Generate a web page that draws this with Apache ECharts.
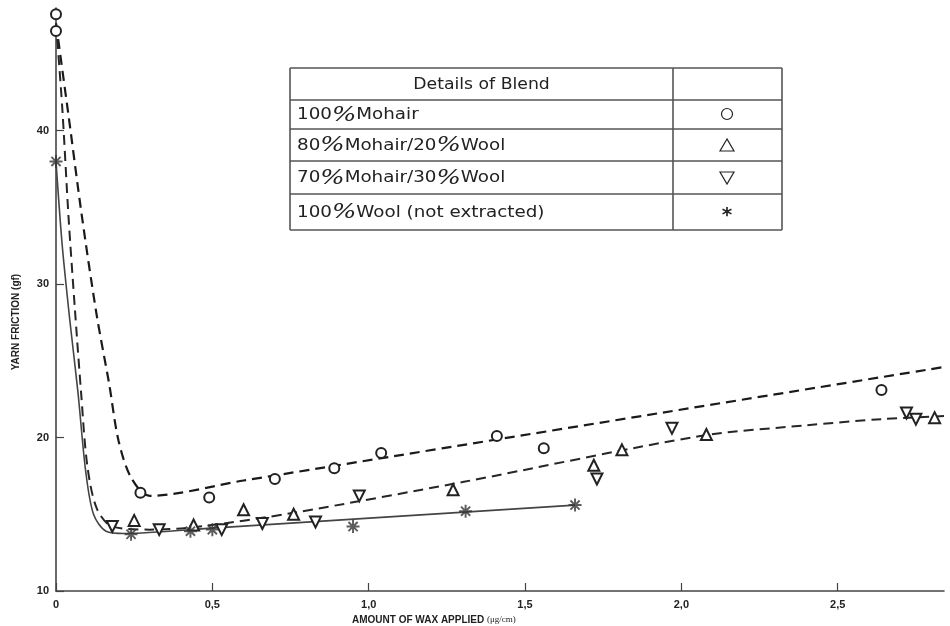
<!DOCTYPE html>
<html>
<head>
<meta charset="utf-8">
<script src="https://cdn.jsdelivr.net/npm/echarts@6/dist/echarts.min.js"></script>
<style>
  html, body { margin: 0; padding: 0; background: #fff; }
  #chart { width: 950px; height: 626px; }
</style>
</head>
<body>
<div id="chart"></div>
<script>
// measured points, x = wax (ug/cm), y = yarn friction (gf)
var mohairPts = [[0, 47.6], [0, 46.5], [0.27, 16.4], [0.49, 16.1], [0.70, 17.3], [0.89, 18.0],
    [1.04, 19.0], [1.41, 20.1], [1.56, 19.3], [2.64, 23.1]];
var blend8020Pts = [[0.25, 14.6], [0.44, 14.3], [0.60, 15.3], [0.76, 15.0], [1.27, 16.6],
    [1.72, 18.2], [1.81, 19.2], [2.08, 20.2], [2.81, 21.3]];
var blend7030Pts = [[0.18, 14.2], [0.33, 14.0], [0.53, 14.0], [0.66, 14.4], [0.83, 14.5],
    [0.97, 16.2], [1.73, 17.3], [1.97, 20.6], [2.72, 21.6], [2.75, 21.2]];
var woolPts = [[0, 38.0], [0.24, 13.7], [0.43, 13.9], [0.50, 14.0], [0.95, 14.2], [1.31, 15.2], [1.66, 15.6]];

// hand drawn fitted curves
var mohairCurve = [[0, 47], [0.04, 41], [0.083, 34.4], [0.13, 28], [0.17, 23.5], [0.2, 19.8],
    [0.24, 17.4], [0.3, 16.2], [0.6, 17.2], [2.84, 24.6]];
var blendCurve = [[0, 47], [0.02, 41.5], [0.04, 34.4], [0.06, 28.5], [0.08, 23.0], [0.1, 18.2],
    [0.13, 15.4], [0.18, 14.2], [0.3, 14.0], [0.46, 14.2], [0.76, 15.1], [1.3, 17.1], [2.06, 20.1],
    [2.4, 20.8], [2.64, 21.2], [2.84, 21.4]];
var woolCurve = [[0, 38], [0.02, 32.5], [0.045, 27.5], [0.07, 23.0], [0.095, 17.8], [0.12, 15.0],
    [0.16, 13.9], [0.22, 13.75], [0.5, 14.1], [1.66, 15.6]];

var legendRows = [
    '100{p|%}Mohair',
    '80{p|%}Mohair/20{p|%}Wool',
    '70{p|%}Mohair/30{p|%}Wool',
    '100{p|%}Wool (not extracted)'
];

var ink = '#222';
var asterisk = 'path://M-1.5,-10L1.5,-10L1.5,10L-1.5,10Z M-10,-1.5L10,-1.5L10,1.5L-10,1.5Z ' +
    'M-6,-8.1L8.1,6L6,8.1L-8.1,-6Z M-8.1,6L6,-8.1L8.1,-6L-6,8.1Z';
var numFont = '"Liberation Sans Narrow", "Liberation Sans", Arial, sans-serif';
var tblFont = '"DejaVu Sans", "Liberation Sans", sans-serif';

var chart = echarts.init(document.getElementById('chart'));

function curve(data, dash, width, color) {
    return {
        type: 'line', data: data, showSymbol: false, smooth: 0.3,
        silent: true, z: 2,
        lineStyle: { color: color, width: width, type: dash }
    };
}
function marks(data, symbol, size, rotate) {
    return {
        type: 'scatter', data: data, symbol: symbol, symbolSize: size, symbolRotate: rotate || 0, z: 3,
        itemStyle: { color: '#fff', borderColor: ink, borderWidth: 2, opacity: 1 }
    };
}

// legend table
var tL = 290, tM = 673, tR = 782, rowsY = [68, 100, 129, 161, 194, 230];
var table = [];
rowsY.forEach(function (y) {
    table.push({ type: 'line', shape: { x1: tL, y1: y, x2: tR, y2: y }, style: { stroke: '#555', lineWidth: 1.6 } });
});
[tL, tM, tR].forEach(function (x) {
    table.push({ type: 'line', shape: { x1: x, y1: rowsY[0], x2: x, y2: rowsY[5] }, style: { stroke: '#555', lineWidth: 1.6 } });
});
table.push({
    type: 'text', x: (tL + tM) / 2, y: 85, scaleX: 1.15,
    style: { text: 'Details of Blend', font: '15px ' + tblFont, fill: ink, align: 'center', verticalAlign: 'middle' }
});
legendRows.forEach(function (t, i) {
    table.push({
        type: 'text', x: 297, y: (rowsY[i + 1] + rowsY[i + 2]) / 2 + 1, scaleX: 1.22,
        style: {
            text: t, font: '15px ' + tblFont, fill: ink, verticalAlign: 'middle',
            rich: { p: { fontSize: 21, fontStyle: 'italic', fontFamily: '"DejaVu Serif", serif', fontWeight: 'lighter', fill: ink } }
        }
    });
});
var sx = 727;
table.push({ type: 'circle', shape: { cx: sx, cy: 114, r: 5.5 }, style: { fill: 'none', stroke: ink, lineWidth: 1.2 } });
table.push({ type: 'polygon', shape: { points: [[sx, 139], [sx - 7, 151], [sx + 7, 151]] }, style: { fill: 'none', stroke: ink, lineWidth: 1.2 } });
table.push({ type: 'polygon', shape: { points: [[sx - 7, 172], [sx + 7, 172], [sx, 184]] }, style: { fill: 'none', stroke: ink, lineWidth: 1.2 } });
table.push({
    type: 'text', x: sx, y: 216,
    style: { text: '*', font: 'bold 20px ' + tblFont, fill: ink, align: 'center', verticalAlign: 'middle' }
});

chart.setOption({
    backgroundColor: '#fff',
    animation: false,
    grid: { left: 56, right: 6, top: 8, bottom: 35 },
    xAxis: {
        type: 'value', min: 0, max: 2.84, interval: 0.5,
        axisLine: { lineStyle: { color: '#444', width: 1.6 } },
        axisTick: { inside: true, length: 8, lineStyle: { color: '#444', width: 1.2 } },
        splitLine: { show: false },
        axisLabel: {
            showMaxLabel: false, color: ink, fontFamily: numFont, fontWeight: 'bold', fontSize: 11, margin: 8,
            formatter: function (v) { return v === 0 ? '0' : v.toFixed(1).replace('.', ','); }
        }
    },
    yAxis: {
        type: 'value', min: 10, max: 48, interval: 10,
        axisLine: { show: true, lineStyle: { color: '#444', width: 1.6 } },
        axisTick: { show: true, inside: true, length: 8, lineStyle: { color: '#444', width: 1.2 } },
        splitLine: { show: false },
        axisLabel: { showMaxLabel: false, color: ink, fontFamily: numFont, fontWeight: 'bold', fontSize: 11, margin: 7 }
    },
    graphic: table.concat([
        {
            type: 'text', x: 16, y: 322, rotation: Math.PI / 2,
            style: { text: 'YARN FRICTION (gf)', font: 'bold 10px ' + numFont, fill: ink, align: 'center', verticalAlign: 'middle' }
        },
        {
            type: 'text', x: 352, y: 620,
            style: {
                text: 'AMOUNT OF WAX APPLIED {u|(μg/cm)}', font: 'bold 10px ' + numFont, fill: ink, verticalAlign: 'middle',
                rich: { u: { fontSize: 9, fontFamily: '"Liberation Serif", serif', fontWeight: 'normal', fill: ink } }
            }
        }
    ]),
    series: [
        curve(mohairCurve, [10, 6], 2.2, '#1a1a1a'),
        curve(blendCurve, [10, 6], 2, '#262626'),
        curve(woolCurve, 'solid', 1.6, '#444'),
        marks(mohairPts, 'circle', 10),
        marks(blend8020Pts, 'triangle', 11),
        marks(blend7030Pts, 'triangle', 11, 180),
        {
            type: 'scatter', data: woolPts, symbol: asterisk, symbolSize: 13, z: 4,
            itemStyle: { color: '#333' }
        }
    ]
});
</script>
</body>
</html>
